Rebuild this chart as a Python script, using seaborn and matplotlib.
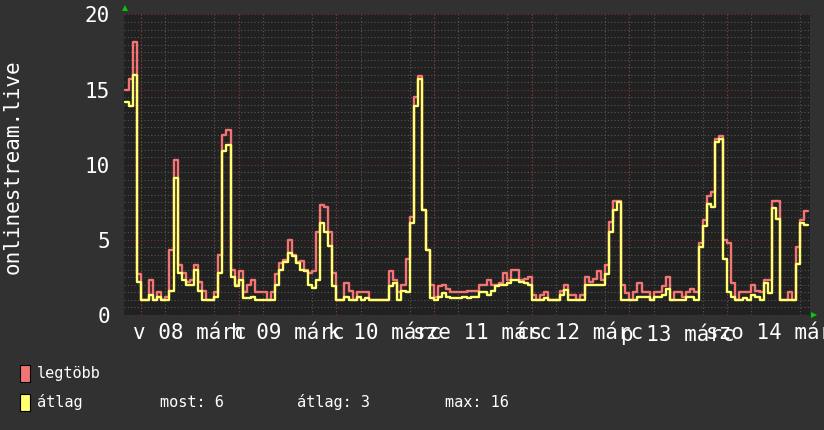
import numpy as np
import pandas as pd
import matplotlib
matplotlib.use("Agg")
import matplotlib.pyplot as plt
from matplotlib.patches import Rectangle
import seaborn as sns

# one sample per hour, hours counted from 03-08 00:00
start_hour = -4
legtobb = [
    15.0, 15.7, 18.2, 2.7, 1.0, 1.0, 2.3, 1.0, 1.55, 1.0, 1.2, 4.3,
    10.3, 3.3, 2.8, 2.2, 2.3, 3.3, 2.2, 1.6, 1.0, 1.0, 1.5, 4.0,
    12.0, 12.3, 3.0, 2.0, 2.95, 1.5, 2.0, 2.3, 1.55, 1.55, 1.55, 1.0,
    1.55, 2.7, 3.45, 3.65, 5.0, 4.0, 3.55, 3.6, 3.0, 2.8, 2.9, 5.5,
    7.3, 7.2, 5.5, 2.8, 1.0, 1.0, 2.1, 1.6, 1.0, 1.55, 1.55, 1.55,
    1.0, 1.0, 1.0, 1.0, 1.0, 2.95, 2.3, 1.5, 2.0, 3.7, 6.5, 14.5,
    15.9, 7.0, 4.3, 2.0, 1.2, 1.9, 2.0, 1.75, 1.55, 1.55, 1.55, 1.55,
    1.6, 1.6, 1.6, 2.0, 2.0, 2.3, 2.0, 2.0, 2.15, 2.8, 2.3, 3.0,
    3.0, 2.3, 2.4, 2.55, 1.3, 1.0, 1.3, 1.5, 1.0, 1.0, 1.0, 1.6,
    2.0, 1.3, 1.3, 1.0, 1.3, 2.5, 2.2, 2.4, 2.9, 2.3, 3.3, 6.2,
    7.6, 7.6, 2.0, 1.45, 1.0, 1.5, 2.15, 1.55, 1.55, 1.0, 1.55, 1.55,
    1.9, 2.55, 1.0, 1.55, 1.55, 1.2, 1.55, 1.75, 1.55, 4.8, 6.3, 7.9,
    8.2, 11.7, 11.9, 5.0, 4.8, 2.1, 1.0, 1.55, 1.55, 1.55, 2.0, 1.6,
    1.55, 2.35, 2.3, 7.6, 7.6, 1.0, 1.0, 1.55, 1.0, 4.55, 6.3, 6.9,
]
atlag = [
    14.2, 13.9, 16.0, 2.2, 1.0, 1.0, 1.3, 1.0, 1.2, 1.0, 1.0, 1.6,
    9.1, 2.8, 2.3, 2.0, 2.0, 3.0, 1.6, 1.0, 1.0, 1.0, 1.2, 2.8,
    10.9, 11.3, 2.5, 1.9, 2.3, 1.1, 1.1, 1.2, 1.0, 1.0, 1.0, 1.0,
    1.0, 2.0, 3.0, 3.55, 4.1, 3.9, 3.45, 3.0, 2.95, 2.0, 1.8, 2.3,
    6.1, 5.5, 4.6, 1.9, 1.0, 1.0, 1.2, 1.0, 1.0, 1.2, 1.0, 1.1,
    1.0, 1.0, 1.0, 1.0, 1.0, 1.9, 2.1, 1.0, 1.6, 1.5, 6.1, 13.9,
    15.7, 7.0, 4.3, 1.1, 1.0, 1.2, 1.45, 1.2, 1.1, 1.1, 1.1, 1.2,
    1.1, 1.2, 1.2, 1.5, 1.5, 1.3, 1.6, 1.95, 2.0, 2.0, 2.15, 2.3,
    2.3, 2.2, 2.1, 2.0, 1.0, 1.0, 1.0, 1.1, 1.0, 1.0, 1.0, 1.3,
    1.65, 1.0, 1.0, 1.0, 1.0, 2.0, 2.0, 2.0, 2.0, 2.0, 2.7, 5.55,
    7.0, 7.5, 1.0, 1.0, 1.0, 1.0, 1.2, 1.2, 1.2, 1.0, 1.2, 1.2,
    1.3, 1.7, 1.0, 1.0, 1.0, 1.0, 1.2, 1.2, 1.0, 4.5, 5.9, 7.4,
    7.2, 11.5, 11.7, 3.7, 1.5, 1.2, 1.0, 1.0, 1.1, 1.0, 1.3, 1.2,
    1.0, 2.1, 1.45, 7.1, 6.4, 1.0, 1.0, 1.0, 1.0, 3.4, 6.1, 6.0,
]
day_labels = ["v 08 márc", "h 09 márc", "k 10 márc", "sze 11 márc",
              "cs 12 márc", "p 13 márc", "szo 14 márc"]
y_ticks = [0, 5, 10, 15, 20]
legend_names = ["legtöbb", "átlag"]
stats = ["most: 6", "átlag: 3", "max: 16"]

BG = "#313131"
CANVAS = "#212121"
RED = "#f47474"
YELLOW = "#ffff70"
MINOR = "#565656"
MAJOR = "#7e3434"

hours = np.arange(start_hour, start_hour + len(legtobb))
df = pd.DataFrame({"ora": hours, "legtöbb": legtobb, "átlag": atlag})
# close the last step
last = df.iloc[[-1]].copy()
last["ora"] = last["ora"] + 1
df = pd.concat([df, last], ignore_index=True)

sns.set_theme(style="dark")
plt.rcParams["font.family"] = ["DejaVu Sans Mono"]

W, H = 824, 430
fig = plt.figure(figsize=(W / 100, H / 100), dpi=100, facecolor=BG)
ax = fig.add_axes([124 / W, (H - 315) / H, 686 / W, 300.5 / H])
ax.set_facecolor(CANVAS)

sns.lineplot(data=df, x="ora", y="legtöbb", color=RED, lw=1.7,
             drawstyle="steps-post", estimator=None, ax=ax, zorder=3)
sns.lineplot(data=df, x="ora", y="átlag", color=YELLOW, lw=1.7,
             drawstyle="steps-post", estimator=None, ax=ax, zorder=4)

ax.set_xlim(-4.18, 164.4)
ax.set_ylim(0, 20)

# grid
ax.set_yticks(y_ticks)
ax.set_yticks(np.arange(0, 20.01, 0.5), minor=True)
ax.set_xticks(np.arange(0, 165, 6), minor=True)
ax.set_xticks(np.arange(12, 168, 24), day_labels)
ax.grid(False)
dots = (0, (1, 2))
ax.grid(which="minor", color=MINOR, lw=0.8, ls=dots, zorder=0)
ax.grid(which="major", axis="y", color=MAJOR, lw=0.8, ls=dots, zorder=1)
for d in range(0, 168, 24):
    ax.axvline(d, color=MAJOR, lw=0.8, ls=dots, zorder=1)
ax.set_axisbelow(True)

ax.tick_params(axis="both", which="both", length=0, colors="white",
               labelsize=15)
ax.tick_params(axis="x", pad=6)
ax.tick_params(axis="y", pad=10)
ax.set_xlabel("")
ax.set_ylabel("onlinestream.live", color="white", fontsize=15, va="center")
ax.yaxis.set_label_coords(-0.163, 0.493)
for s in ax.spines.values():
    s.set_visible(False)

# green axis arrows
ax.plot([0.001], [1.0], marker="^", color="#00cc00", ms=5, mew=0,
        transform=ax.transAxes, clip_on=False)
ax.plot([1.0], [-0.001], marker=">", color="#00cc00", ms=5, mew=0,
        transform=ax.transAxes, clip_on=False)
ax.lines[-2].set_transform(ax.transAxes + matplotlib.transforms.ScaledTranslation(0, 6 / 100, fig.dpi_scale_trans))
ax.lines[-1].set_transform(ax.transAxes + matplotlib.transforms.ScaledTranslation(4 / 100, 0, fig.dpi_scale_trans))

# legend block
for i, (name, col) in enumerate(zip(legend_names, [RED, YELLOW])):
    ytop = 365 + i * 29
    fig.patches.append(Rectangle((20 / W, 1 - (ytop + 17) / H), 10 / W, 17 / H,
                                 transform=fig.transFigure, facecolor=col,
                                 edgecolor="black", lw=0.8))
    fig.text(37 / W, 1 - (ytop + 8.5) / H, name, color="white",
             fontsize=11, va="center", ha="left")
for x, txt in zip([160, 297, 445], stats):
    fig.text(x / W, 1 - 402.5 / H, txt, color="white", fontsize=11,
             va="center", ha="left")

fig.savefig("out.png", dpi=100, facecolor=BG)
